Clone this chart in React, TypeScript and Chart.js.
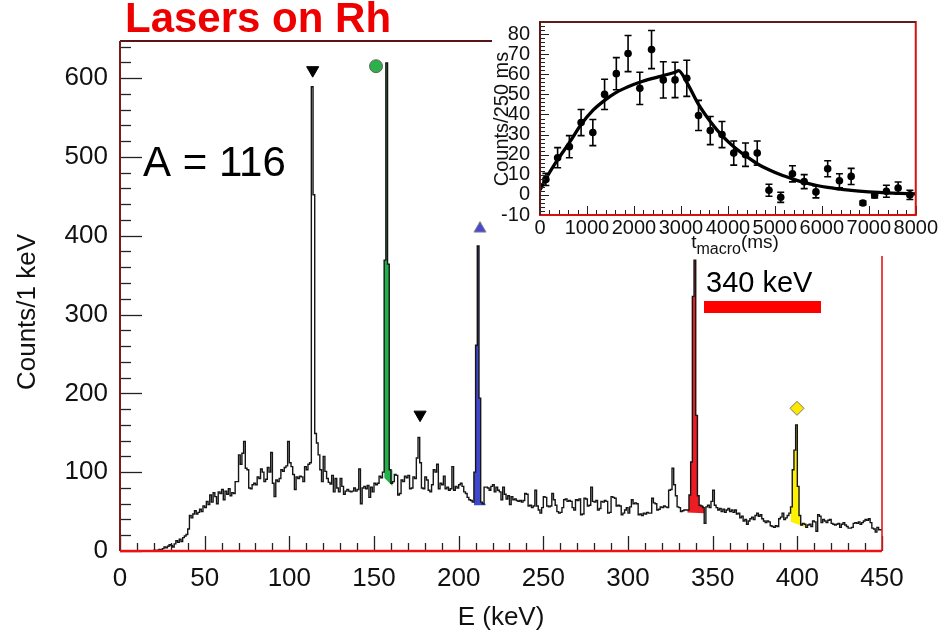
import React, { useEffect, useRef } from "react";
import { Chart, registerables } from "chart.js";

Chart.register(...registerables);

const FONT = "'Liberation Sans', Arial, Helvetica, sans-serif";

// ---------------- main spectrum (1 keV bins, left edges 0..449 keV) ----------------
const countsPerKeV: number[] = [
  0, 0, 0, 0, 0, 0, 0, 0, 0, 0,
  0, 0, 0, 0, 0, 0, 0, 0, 0, 0,
  0, 1, 0, 1, 2, 1, 3, 5, 4, 6,
  8, 7, 5, 9, 13, 11, 15, 12, 17, 19,
  21, 28, 45, 42, 47, 51, 47, 49, 53, 50,
  57, 55, 63, 59, 71, 62, 74, 69, 60, 75,
  73, 78, 65, 76, 72, 79, 70, 74, 73, 88,
  88, 122, 110, 124, 139, 105, 103, 80, 79, 84,
  86, 84, 94, 92, 104, 100, 88, 91, 106, 100,
  125, 86, 69, 90, 88, 92, 103, 101, 106, 108,
  139, 112, 107, 97, 78, 94, 92, 95, 94, 88,
  107, 103, 110, 112, 589, 452, 149, 137, 122, 103,
  88, 120, 101, 92, 87, 85, 96, 75, 92, 80,
  75, 92, 82, 72, 76, 78, 76, 75, 76, 80,
  76, 78, 104, 60, 80, 82, 79, 83, 68, 81,
  75, 86, 84, 86, 95, 93, 100, 369, 619, 364,
  103, 86, 88, 97, 96, 71, 73, 90, 88, 95,
  93, 96, 79, 80, 94, 92, 118, 144, 112, 80,
  79, 94, 90, 77, 75, 84, 103, 100, 110, 79,
  86, 84, 95, 79, 81, 77, 79, 107, 77, 82,
  80, 84, 86, 82, 75, 73, 68, 65, 64, 62,
  100, 261, 387, 194, 62, 60, 81, 81, 80, 77,
  82, 84, 75, 81, 77, 75, 65, 81, 72, 66,
  70, 59, 69, 65, 66, 64, 63, 64, 62, 64,
  73, 72, 57, 58, 55, 57, 77, 57, 52, 48,
  55, 69, 68, 57, 56, 57, 73, 65, 58, 50,
  48, 49, 55, 65, 66, 63, 64, 63, 55, 52,
  65, 64, 66, 46, 47, 67, 66, 57, 58, 81,
  63, 62, 64, 52, 54, 63, 62, 64, 63, 48,
  49, 69, 68, 67, 57, 58, 57, 46, 48, 52,
  55, 48, 56, 65, 60, 61, 60, 46, 47, 45,
  48, 47, 49, 48, 48, 67, 61, 60, 52, 53,
  56, 55, 57, 56, 55, 77, 78, 105, 84, 70,
  56, 55, 50, 51, 52, 52, 52, 71, 113, 323,
  369, 172, 70, 58, 57, 55, 35, 56, 58, 55,
  63, 77, 58, 55, 52, 54, 50, 53, 49, 52,
  54, 50, 52, 49, 52, 47, 48, 42, 44, 38,
  40, 34, 38, 41, 43, 40, 45, 48, 44, 46,
  41, 38, 36, 38, 37, 32, 31, 30, 32, 31,
  41, 43, 48, 40, 42, 45, 48, 56, 103, 128,
  160, 82, 45, 33, 35, 34, 30, 33, 34, 31,
  38, 37, 25, 46, 44, 36, 40, 38, 36, 39,
  40, 35, 34, 33, 34, 35, 30, 34, 36, 33,
  31, 29, 29, 30, 35, 36, 35, 37, 34, 36,
  38, 40, 39, 41, 36, 29, 28, 24, 30, 27,
];

const xTickValues = [0, 50, 100, 150, 200, 250, 300, 350, 400, 450];
const yTickValues = [0, 100, 200, 300, 400, 500, 600];

// coloured gamma lines: filled between histogram and a linear background
const peakColors = ["#22b14c", "#3f48cc", "#ed1c24", "#fff200"];
const peakFromKeV = [156, 209, 335, 396];
const peakToKeV = [161, 216, 345, 405];
const peakBaseFrom = [93, 58, 49, 37];
const peakBaseTo = [82, 58, 48, 30];

// markers above lines
const markerKeV = [113.8, 151.2, 212.6, 177.2, 399.8];
const markerCounts = [610, 615, 409, 173, 181];
const markerStyles = ["triangle", "circle", "triangle", "triangle", "rectRot"];
const markerRotation = [180, 0, 0, 180, 0];
const markerRadius = [7, 6.5, 7, 7, 7];
const markerFill = ["#000000", "#2bb04a", "#4848d0", "#000000", "#ffe800"];
const markerBorder = ["#000000", "#666666", "#888888", "#000000", "#777777"];

// ---------------- inset: time profile ----------------
const tMacroMs = [
  125, 375, 625, 875, 1125, 1375, 1625, 1875, 2125, 2375, 2625, 2875, 3125, 3375, 3625, 3875,
  4125, 4375, 4625, 4875, 5125, 5375, 5625, 5875, 6125, 6375, 6625, 6875, 7125, 7375, 7625, 7875,
];
const countsPer250ms = [
  7.7, 18.5, 24, 36, 31, 50, 60.3, 70.3, 53, 72.3, 57.2, 57.2, 58, 39.5, 32, 30,
  20.8, 20, 20.8, 2.3, -1.2, 10.5, 6.6, 1.5, 13, 7, 9.2, -4, 0, 1.8, 3.4, 0,
];
const countErrors = [
  3, 5, 5.5, 6.5, 6.5, 7.5, 8, 9, 8, 9.5, 9, 8.8, 9, 7.5, 7, 6.5,
  6, 5.8, 6, 3, 2.5, 4, 3.5, 3, 4, 3.5, 4, 1, 1.5, 3, 3, 2.3,
];
const fitTimeMs = [
  0, 125, 375, 625, 875, 1125, 1375, 1625, 1875, 2125, 2375, 2625, 2875, 2950,
  3125, 3375, 3625, 3875, 4125, 4375, 4625, 4875, 5125, 5375, 5625, 5875, 6125, 6375, 6625, 7000, 7500, 8000,
];
const fitCounts = [
  2.5, 8, 17.5, 26, 35, 42, 47, 51, 53.8, 56, 57.8, 59.4, 61, 61.8,
  56, 45, 36.5, 29.5, 24, 19.5, 15.5, 12.5, 10, 8, 6.2, 4.8, 3.7, 2.9, 2.2, 1.5, 0.9, 0.5,
];
const insetXTicks = [0, 1000, 2000, 3000, 4000, 5000, 6000, 7000, 8000];
const insetYTicks = [-10, 0, 10, 20, 30, 40, 50, 60, 70, 80];

function mainConfig(): any {
  const histPoints = countsPerKeV.map((c, i) => ({ x: i, y: c }));
  histPoints.push({ x: countsPerKeV.length, y: countsPerKeV[countsPerKeV.length - 1] });

  const datasets: any[] = [
    {
      label: "markers",
      data: markerKeV.map((e, i) => ({ x: e, y: markerCounts[i] })),
      showLine: false,
      pointStyle: markerStyles,
      pointRotation: markerRotation,
      pointRadius: markerRadius,
      pointBackgroundColor: markerFill,
      pointBorderColor: markerBorder,
      pointBorderWidth: 1,
      order: 0,
    },
    {
      label: "spectrum",
      data: histPoints,
      stepped: "after",
      borderColor: "#151515",
      borderWidth: 1.4,
      pointRadius: 0,
      fill: false,
      order: 1,
    },
  ];
  peakColors.forEach((col, k) => {
    const pts: any[] = [];
    for (let e = peakFromKeV[k]; e < peakToKeV[k]; e++) pts.push({ x: e, y: countsPerKeV[e] });
    pts.push({ x: peakToKeV[k], y: countsPerKeV[peakToKeV[k] - 1] });
    const baseIndex = datasets.length + 1;
    datasets.push({
      label: "peak" + k,
      data: pts,
      stepped: "after",
      borderWidth: 0,
      borderColor: "rgba(0,0,0,0)",
      backgroundColor: col,
      pointRadius: 0,
      fill: { target: baseIndex },
      order: 2,
    });
    datasets.push({
      label: "base" + k,
      data: [
        { x: peakFromKeV[k], y: peakBaseFrom[k] },
        { x: peakToKeV[k], y: peakBaseTo[k] },
      ],
      borderWidth: 0,
      borderColor: "rgba(0,0,0,0)",
      pointRadius: 0,
      fill: false,
      order: 3,
    });
  });

  const decor = {
    id: "mainDecor",
    afterDraw(chart: any) {
      const { ctx, chartArea, scales } = chart;
      const { left, right, top, bottom } = chartArea;
      const xs = scales.x;
      const ys = scales.y;
      ctx.save();
      // inner ticks
      ctx.strokeStyle = "#222";
      ctx.lineWidth = 1.3;
      for (let v = 0; v <= 640; v += 20) {
        const py = Math.round(ys.getPixelForValue(v)) + 0.5;
        const len = v % 100 === 0 ? 22 : 11;
        ctx.beginPath();
        ctx.moveTo(left, py);
        ctx.lineTo(left + len, py);
        ctx.stroke();
      }
      for (let e = 0; e <= 450; e += 10) {
        const px = Math.round(xs.getPixelForValue(e)) + 0.5;
        const len = e % 50 === 0 ? 15 : 8;
        ctx.beginPath();
        ctx.moveTo(px, bottom);
        ctx.lineTo(px, bottom - len);
        ctx.stroke();
      }
      // frame
      ctx.lineWidth = 2;
      ctx.strokeStyle = "#5a1414";
      ctx.beginPath();
      ctx.moveTo(left, top);
      ctx.lineTo(right, top);
      ctx.stroke();
      ctx.strokeStyle = "#7a1a1a";
      ctx.beginPath();
      ctx.moveTo(left, top);
      ctx.lineTo(left, bottom);
      ctx.stroke();
      ctx.strokeStyle = "#e01818";
      ctx.lineWidth = 1.6;
      ctx.beginPath();
      ctx.moveTo(right, top);
      ctx.lineTo(right, bottom);
      ctx.stroke();
      ctx.lineWidth = 2.5;
      ctx.strokeStyle = "#ee1111";
      ctx.beginPath();
      ctx.moveTo(left, bottom);
      ctx.lineTo(right, bottom);
      ctx.stroke();

      // y axis title
      ctx.fillStyle = "#111";
      ctx.font = `26px ${FONT}`;
      ctx.textAlign = "center";
      ctx.textBaseline = "middle";
      ctx.save();
      ctx.translate(28, 312);
      ctx.rotate(-Math.PI / 2);
      ctx.fillText("Counts/1 keV", 0, 0);
      ctx.restore();

      // annotations
      ctx.textAlign = "left";
      ctx.textBaseline = "alphabetic";
      ctx.fillStyle = "#ee0000";
      ctx.font = `bold 42px ${FONT}`;
      ctx.fillText("Lasers on Rh", 125, 32);
      ctx.fillStyle = "#000";
      ctx.font = `42px ${FONT}`;
      ctx.fillText("A = 116", 143, 176);
      ctx.font = `29px ${FONT}`;
      ctx.fillText("340 keV", 706, 292);
      ctx.fillStyle = "#ff0000";
      ctx.fillRect(704, 301, 117, 12);
      ctx.restore();
    },
  };

  return {
    type: "line",
    data: { datasets },
    plugins: [decor],
    options: {
      animation: false,
      responsive: false,
      devicePixelRatio: 1,
      layout: { padding: { left: 0, right: 57, top: 41, bottom: 0 } },
      plugins: { legend: { display: false }, tooltip: { enabled: false } },
      scales: {
        x: {
          type: "linear",
          min: 0,
          max: 450,
          grid: { display: false, drawTicks: false },
          border: { display: false },
          afterBuildTicks: (s: any) => {
            s.ticks = xTickValues.map((v) => ({ value: v }));
          },
          ticks: {
            autoSkip: false,
            maxRotation: 0,
            minRotation: 0,
            padding: 12,
            color: "#111",
            font: { family: FONT, size: 26 },
            callback: (v: any) => String(v),
          },
          title: {
            display: true,
            text: "E (keV)",
            color: "#111",
            font: { family: FONT, size: 26 },
            padding: { top: 0, bottom: 0 },
          },
          afterFit: (s: any) => {
            s.height = 82;
          },
        },
        y: {
          type: "linear",
          min: 0,
          max: 647,
          grid: { display: false, drawTicks: false },
          border: { display: false },
          afterBuildTicks: (s: any) => {
            s.ticks = yTickValues.map((v) => ({ value: v }));
          },
          ticks: {
            autoSkip: false,
            padding: 12,
            color: "#111",
            font: { family: FONT, size: 26 },
            callback: (v: any) => String(v),
          },
          afterFit: (s: any) => {
            s.width = 120;
          },
        },
      },
    },
  };
}

function insetConfig(): any {
  const errorBars = {
    id: "errorBars",
    beforeDatasetsDraw(chart: any) {
      const { ctx, scales } = chart;
      ctx.save();
      ctx.strokeStyle = "#000";
      ctx.lineWidth = 1.6;
      tMacroMs.forEach((t, i) => {
        const px = scales.x.getPixelForValue(t);
        const y1 = scales.y.getPixelForValue(countsPer250ms[i] + countErrors[i]);
        const y2 = scales.y.getPixelForValue(countsPer250ms[i] - countErrors[i]);
        ctx.beginPath();
        ctx.moveTo(px, y1);
        ctx.lineTo(px, y2);
        ctx.moveTo(px - 3.5, y1);
        ctx.lineTo(px + 3.5, y1);
        ctx.moveTo(px - 3.5, y2);
        ctx.lineTo(px + 3.5, y2);
        ctx.stroke();
      });
      ctx.restore();
    },
  };
  const decor = {
    id: "insetDecor",
    beforeDraw(chart: any) {
      const { ctx, width, height } = chart;
      ctx.save();
      ctx.fillStyle = "#ffffff";
      ctx.fillRect(0, 0, width, height);
      ctx.restore();
    },
    afterDraw(chart: any) {
      const { ctx, chartArea, scales } = chart;
      const { left, right, top, bottom } = chartArea;
      ctx.save();
      ctx.strokeStyle = "#222";
      ctx.lineWidth = 1;
      for (let v = -10; v <= 86; v += 2) {
        const py = Math.round(scales.y.getPixelForValue(v)) + 0.5;
        const len = v % 10 === 0 ? 9 : 5;
        ctx.beginPath();
        ctx.moveTo(left, py);
        ctx.lineTo(left + len, py);
        ctx.stroke();
      }
      for (let t = 0; t <= 8000; t += 200) {
        const px = Math.round(scales.x.getPixelForValue(t)) + 0.5;
        const len = t % 1000 === 0 ? 9 : 5;
        ctx.beginPath();
        ctx.moveTo(px, bottom);
        ctx.lineTo(px, bottom - len);
        ctx.stroke();
      }
      // frame
      ctx.lineWidth = 2;
      ctx.strokeStyle = "#d81010";
      ctx.strokeRect(left, top, right - left, bottom - top);
      ctx.strokeStyle = "#3a2020";
      ctx.lineWidth = 1.6;
      ctx.beginPath();
      ctx.moveTo(left, bottom);
      ctx.lineTo(left, top);
      ctx.lineTo(right, top);
      ctx.stroke();

      // axis titles
      ctx.fillStyle = "#111";
      ctx.font = `20px ${FONT}`;
      ctx.textAlign = "center";
      ctx.textBaseline = "middle";
      ctx.save();
      ctx.translate(10, 119);
      ctx.rotate(-Math.PI / 2);
      ctx.fillText("Counts/250 ms", 0, 0);
      ctx.restore();

      ctx.textAlign = "left";
      ctx.textBaseline = "alphabetic";
      const mainFont = `19px ${FONT}`;
      const subFont = `16px ${FONT}`;
      ctx.font = mainFont;
      const wT = ctx.measureText("t").width;
      const wMs = ctx.measureText("(ms)").width;
      ctx.font = subFont;
      const wSub = ctx.measureText("macro").width;
      let x = 243 - (wT + wSub + wMs) / 2;
      ctx.font = mainFont;
      ctx.fillText("t", x, 248);
      x += wT;
      ctx.font = subFont;
      ctx.fillText("macro", x, 254);
      x += wSub;
      ctx.font = mainFont;
      ctx.fillText("(ms)", x, 248);
      ctx.restore();
    },
  };
  return {
    type: "line",
    data: {
      datasets: [
        {
          label: "data",
          data: tMacroMs.map((t, i) => ({ x: t, y: countsPer250ms[i] })),
          showLine: false,
          pointRadius: 3.8,
          pointBackgroundColor: "#000",
          pointBorderColor: "#000",
          pointBorderWidth: 0,
          order: 0,
        },
        {
          label: "fit",
          data: fitTimeMs.map((t, i) => ({ x: t, y: fitCounts[i] })),
          borderColor: "#000",
          borderWidth: 3.3,
          pointRadius: 0,
          cubicInterpolationMode: "monotone",
          fill: false,
          order: 1,
        },
      ],
    },
    plugins: [decor, errorBars],
    options: {
      animation: false,
      responsive: false,
      devicePixelRatio: 1,
      layout: { padding: { left: 0, right: 20, top: 7, bottom: 0 } },
      plugins: { legend: { display: false }, tooltip: { enabled: false } },
      scales: {
        x: {
          type: "linear",
          min: 0,
          max: 8000,
          grid: { display: false, drawTicks: false },
          border: { display: false },
          afterBuildTicks: (s: any) => {
            s.ticks = insetXTicks.map((v) => ({ value: v }));
          },
          ticks: {
            autoSkip: false,
            maxRotation: 0,
            minRotation: 0,
            padding: 1,
            color: "#111",
            font: { family: FONT, size: 20 },
            callback: (v: any) => String(v),
          },
          afterFit: (s: any) => {
            s.height = 41;
          },
        },
        y: {
          type: "linear",
          min: -10,
          max: 86,
          grid: { display: false, drawTicks: false },
          border: { display: false },
          afterBuildTicks: (s: any) => {
            s.ticks = insetYTicks.map((v) => ({ value: v }));
          },
          ticks: {
            autoSkip: false,
            padding: 10,
            color: "#111",
            font: { family: FONT, size: 20 },
            callback: (v: any) => String(v),
          },
          afterFit: (s: any) => {
            s.width = 48;
          },
        },
      },
    },
  };
}

export default function App() {
  const mainRef = useRef<HTMLCanvasElement | null>(null);
  const insetRef = useRef<HTMLCanvasElement | null>(null);
  useEffect(() => {
    const main = new Chart(mainRef.current as HTMLCanvasElement, mainConfig());
    const inset = new Chart(insetRef.current as HTMLCanvasElement, insetConfig());
    return () => {
      main.destroy();
      inset.destroy();
    };
  }, []);
  return (
    <div
      style={{
        position: "absolute",
        left: 0,
        top: 0,
        width: 939,
        height: 633,
        background: "#ffffff",
        overflow: "hidden",
      }}
    >
      <canvas
        ref={mainRef}
        width={939}
        height={633}
        style={{ position: "absolute", left: 0, top: 0, width: 939, height: 633 }}
      />
      <canvas
        ref={insetRef}
        width={447}
        height={256}
        style={{ position: "absolute", left: 492, top: 0, width: 447, height: 256 }}
      />
    </div>
  );
}
